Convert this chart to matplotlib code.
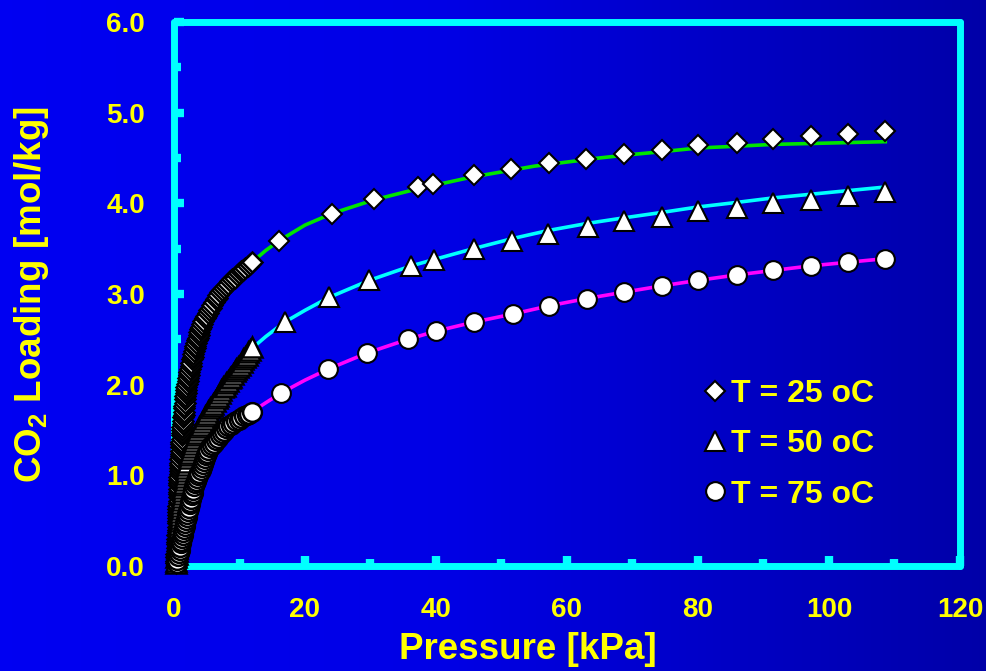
import numpy as np
import matplotlib
matplotlib.use("Agg")
import matplotlib.pyplot as plt

plt.rcParams['font.family'] = ['Liberation Sans', 'DejaVu Sans']
plt.rcParams['font.weight'] = 'bold'
plt.rcParams['mathtext.fontset'] = 'custom'
plt.rcParams['mathtext.rm'] = 'Liberation Sans:bold'
plt.rcParams['mathtext.default'] = 'rm'

# ---- data ----
labels = ["T = 25 oC", "T = 50 oC", "T = 75 oC"]

# dense low-pressure measurements (kPa, mol/kg)
p25_low = [0.30, 0.32, 0.35, 0.37, 0.39, 0.42, 0.44, 0.46, 0.49, 0.51, 0.54, 0.56,
           0.57, 0.59, 0.60, 0.62, 0.63, 0.65, 0.66, 0.68, 0.69, 0.71, 0.73, 0.74, 0.76, 0.77, 0.79, 0.80, 0.81,
           0.83, 0.86, 0.88, 0.91, 0.93, 0.95, 0.98, 1.00, 1.03, 1.05, 1.08, 1.10, 1.13, 1.15, 1.17, 1.20, 1.22,
           1.26, 1.31, 1.35, 1.40, 1.45, 1.50, 1.55, 1.59, 1.64, 1.69, 1.74, 1.78, 1.83,
           1.90, 1.98, 2.07, 2.16, 2.25, 2.35, 2.44, 2.54, 2.63, 2.73, 2.83,
           2.94, 3.05, 3.16, 3.28, 3.40, 3.52, 3.64, 3.76, 3.88, 4.00, 4.13, 4.25,
           4.47, 4.70, 4.93, 5.16, 5.39, 5.62, 5.85, 6.10, 6.34, 6.56, 6.79, 7.02, 7.26,
           7.59, 7.92, 8.25, 8.58, 8.91, 9.24, 9.58, 9.91, 10.24, 10.57, 10.90, 11.24, 11.57, 11.90]
q25_low = [0.03, 0.06, 0.10, 0.13, 0.17, 0.20, 0.24, 0.27, 0.30, 0.34, 0.37, 0.40,
           0.43, 0.47, 0.50, 0.53, 0.56, 0.60, 0.63, 0.66, 0.69, 0.72, 0.76, 0.79, 0.82, 0.85, 0.89, 0.92, 0.95,
           0.98, 1.01, 1.05, 1.08, 1.11, 1.14, 1.18, 1.21, 1.24, 1.27, 1.31, 1.34, 1.37, 1.40, 1.44, 1.47, 1.50,
           1.53, 1.57, 1.60, 1.64, 1.67, 1.70, 1.74, 1.77, 1.80, 1.84, 1.87, 1.91, 1.94,
           1.97, 2.01, 2.04, 2.07, 2.11, 2.14, 2.17, 2.21, 2.24, 2.28, 2.31,
           2.34, 2.37, 2.40, 2.43, 2.46, 2.49, 2.52, 2.55, 2.58, 2.61, 2.64, 2.67,
           2.70, 2.73, 2.76, 2.79, 2.82, 2.85, 2.88, 2.91, 2.94, 2.96, 2.99, 3.02, 3.04,
           3.07, 3.09, 3.11, 3.14, 3.16, 3.18, 3.21, 3.23, 3.25, 3.27, 3.29, 3.31, 3.33, 3.35]

p50_low = [0.30, 0.34, 0.37, 0.41, 0.44, 0.48, 0.52, 0.55, 0.59, 0.62, 0.66,
           0.71, 0.75, 0.80, 0.85, 0.89, 0.94, 0.99, 1.03, 1.08, 1.12, 1.17,
           1.24, 1.30, 1.37, 1.43, 1.50, 1.56, 1.63, 1.69, 1.76, 1.82, 1.89, 1.95,
           2.09, 2.22, 2.36, 2.50, 2.63, 2.77, 2.91, 3.04, 3.18, 3.31, 3.45,
           3.67, 3.89, 4.11, 4.34, 4.56, 4.78, 5.00,
           5.25, 5.50, 5.75, 6.00, 6.25, 6.50, 6.75, 7.00, 7.25, 7.50,
           7.75, 8.00, 8.25, 8.50, 8.75, 9.00,
           9.26, 9.53, 9.79, 10.05, 10.32, 10.58, 10.85, 11.11, 11.37, 11.64, 11.90]
q50_low = [0.03, 0.06, 0.10, 0.13, 0.16, 0.20, 0.23, 0.26, 0.30, 0.33, 0.36,
           0.39, 0.43, 0.46, 0.50, 0.53, 0.56, 0.60, 0.63, 0.66, 0.70, 0.73,
           0.76, 0.79, 0.83, 0.86, 0.89, 0.92, 0.95, 0.98, 1.02, 1.05, 1.08, 1.11,
           1.15, 1.19, 1.22, 1.25, 1.28, 1.31, 1.34, 1.38, 1.41, 1.44, 1.47,
           1.50, 1.53, 1.56, 1.59, 1.62, 1.65, 1.68,
           1.71, 1.74, 1.77, 1.79, 1.82, 1.85, 1.88, 1.91, 1.94, 1.97,
           1.99, 2.02, 2.04, 2.07, 2.09, 2.12,
           2.15, 2.17, 2.20, 2.22, 2.25, 2.28, 2.30, 2.33, 2.36, 2.38, 2.41]

p75_low = [0.41, 0.52, 0.63, 0.74, 0.85,
           0.95, 1.05, 1.14, 1.24, 1.34, 1.44, 1.54, 1.64, 1.73, 1.83, 1.93,
           2.05, 2.16, 2.28, 2.39, 2.51, 2.62, 2.74, 2.85, 2.97, 3.08, 3.20,
           3.37, 3.54, 3.71, 3.88, 4.05, 4.21, 4.38, 4.55, 4.72, 4.89, 5.06, 5.23,
           5.53, 5.84, 6.14, 6.45, 6.75, 7.05, 7.36, 7.66, 7.97, 8.27,
           8.67, 9.08, 9.48, 9.89, 10.29, 10.69, 11.10, 11.50, 11.90]
q75_low = [0.03, 0.07, 0.11, 0.14, 0.18,
           0.21, 0.25, 0.28, 0.31, 0.34, 0.38, 0.41, 0.44, 0.47, 0.51, 0.54,
           0.57, 0.61, 0.64, 0.68, 0.71, 0.74, 0.78, 0.81, 0.84, 0.88, 0.91,
           0.94, 0.97, 1.00, 1.03, 1.06, 1.09, 1.13, 1.16, 1.19, 1.22, 1.25, 1.28,
           1.31, 1.33, 1.36, 1.39, 1.41, 1.44, 1.47, 1.49, 1.52, 1.54,
           1.56, 1.58, 1.60, 1.61, 1.63, 1.65, 1.67, 1.68, 1.70]

# sparse higher-pressure measurements
p25 = [16.1, 24.1, 30.6, 37.2, 39.6, 45.8, 51.5, 57.2, 62.9, 68.7, 74.5, 80.0, 85.9, 91.5, 97.2, 102.9, 108.6]
q25 = [3.58, 3.88, 4.05, 4.18, 4.21, 4.31, 4.38, 4.44, 4.49, 4.54, 4.59, 4.64, 4.67, 4.71, 4.74, 4.77, 4.80]
p50 = [16.9, 23.6, 29.8, 36.2, 39.7, 45.8, 51.6, 57.1, 63.2, 68.7, 74.5, 80.0, 85.9, 91.5, 97.2, 102.9, 108.6]
q50 = [2.69, 2.97, 3.15, 3.31, 3.38, 3.50, 3.58, 3.66, 3.74, 3.80, 3.85, 3.91, 3.95, 4.00, 4.04, 4.08, 4.12]
p75 = [16.4, 23.5, 29.5, 35.7, 40.0, 45.8, 51.8, 57.3, 63.0, 68.7, 74.5, 80.0, 85.9, 91.5, 97.2, 102.9, 108.6]
q75 = [1.91, 2.17, 2.35, 2.50, 2.59, 2.69, 2.78, 2.87, 2.95, 3.02, 3.09, 3.15, 3.21, 3.26, 3.31, 3.35, 3.39]

# model fit curves
pf25 = [10.5, 11.9, 14.0, 16.1, 20.0, 24.2, 30.6, 37.2, 45.5, 55.0, 64.9, 68.7, 74.5, 80.0, 85.9, 91.5, 97.2, 102.9, 108.6]
qf25 = [3.25, 3.35, 3.48, 3.59, 3.76, 3.89, 4.04, 4.16, 4.29, 4.41, 4.50, 4.53, 4.57, 4.61, 4.63, 4.65, 4.66, 4.67, 4.68]
pf50 = [10.5, 11.9, 14.0, 16.9, 20.0, 23.6, 29.8, 36.2, 39.7, 45.7, 51.6, 57.1, 63.2, 68.7, 74.5, 80.0, 85.9, 91.5, 97.2, 102.9, 108.6]
qf50 = [2.27, 2.40, 2.53, 2.69, 2.82, 2.96, 3.15, 3.31, 3.38, 3.50, 3.61, 3.70, 3.78, 3.84, 3.90, 3.96, 4.01, 4.06, 4.10, 4.14, 4.18]
pf75 = [10.5, 11.9, 14.0, 16.4, 20.0, 23.5, 29.5, 35.7, 40.0, 45.8, 51.8, 57.3, 63.0, 68.7, 74.5, 80.0, 85.9, 91.5, 97.2, 102.9, 108.6]
qf75 = [1.64, 1.70, 1.80, 1.91, 2.05, 2.17, 2.35, 2.50, 2.59, 2.69, 2.78, 2.87, 2.95, 3.02, 3.09, 3.15, 3.21, 3.26, 3.31, 3.35, 3.39]

yellow = '#FFFF00'
cyan = '#00FFFF'

fig = plt.figure(figsize=(9.87, 6.71), dpi=100)

# blue gradient background
bg = fig.add_axes([0, 0, 1, 1], zorder=-10)
xs = np.linspace(0, 1, 256)
blue = np.interp(xs, [0, 0.45, 1], [0.95, 0.90, 0.66])
grad = np.zeros((2, 256, 3))
grad[:, :, 2] = blue
bg.imshow(grad, aspect='auto', extent=[0, 1, 0, 1])
bg.axis('off')

ax = fig.add_axes([0.1763, 0.1565, 0.7963, 0.8107])
ax.set_facecolor('none')

# fit lines
ax.plot(pf25, qf25, color='#00E400', lw=2.6, zorder=3)
ax.plot(pf50, qf50, color=cyan, lw=2.6, zorder=3)
ax.plot(pf75, qf75, color='#FF00FF', lw=2.6, zorder=3)

mk = dict(linestyle='none', markerfacecolor='white', markeredgecolor='black',
          clip_on=False, zorder=5)
ds, ts, cs = 10.3, 14.3, 13.5
# the dense runs pile up into a dark striped band
ax.plot(p25_low, q25_low, marker='D', markersize=ds, markeredgewidth=1.8, **mk)
ax.plot(p50_low, q50_low, marker='^', markersize=ts, markeredgewidth=1.8, **mk)
ax.plot(p75_low, q75_low, marker='o', markersize=cs, markeredgewidth=1.8, **mk)
h1, = ax.plot(p25, q25, marker='D', markersize=ds, markeredgewidth=1.5, **mk)
h2, = ax.plot(p50, q50, marker='^', markersize=ts, markeredgewidth=1.5, **mk)
h3, = ax.plot(p75, q75, marker='o', markersize=cs, markeredgewidth=1.5, **mk)

ax.set_xlim(0, 120)
ax.set_ylim(0, 6)
ax.set_xticks(np.arange(0, 121, 20))
ax.set_xticks(np.arange(10, 120, 20), minor=True)
ax.set_yticks(np.arange(0, 6.1, 1))
ax.set_yticks(np.arange(0.5, 6, 1), minor=True)
ax.set_yticklabels([f"{v:.1f}" for v in np.arange(0, 6.1, 1)])

for s in ax.spines.values():
    s.set_color(cyan)
    s.set_linewidth(5)
    s.set_capstyle('round')
    s.set_joinstyle('round')

ax.tick_params(which='both', direction='in', color=cyan, width=6,
               top=False, right=False, labelcolor=yellow, labelsize=20)
ax.tick_params(which='major', length=7)
ax.tick_params(which='minor', length=4.7)
ax.tick_params(axis='x', pad=22)
ax.tick_params(axis='y', pad=21)
for t in ax.get_xticklabels() + ax.get_yticklabels():
    t.set_fontweight('bold')

ax.set_xlabel("Pressure [kPa]", fontsize=26.5, fontweight='bold', color=yellow)
ax.xaxis.set_label_coords(0.45, -0.122)
ax.set_ylabel(r"CO$_2$ Loading [mol/kg]", fontsize=26.5, fontweight='bold', color=yellow)
ax.yaxis.set_label_coords(-0.157, 0.5)

leg = ax.legend([h1, h2, h3], labels, loc='center left', bbox_to_anchor=(0.672, 0.224),
                frameon=False, handlelength=0.8, handletextpad=0.1, labelspacing=0.64,
                borderpad=0, borderaxespad=0, prop=dict(size=23, weight='bold'))
for t in leg.get_texts():
    t.set_color(yellow)

plt.savefig("out.png", dpi=100)
